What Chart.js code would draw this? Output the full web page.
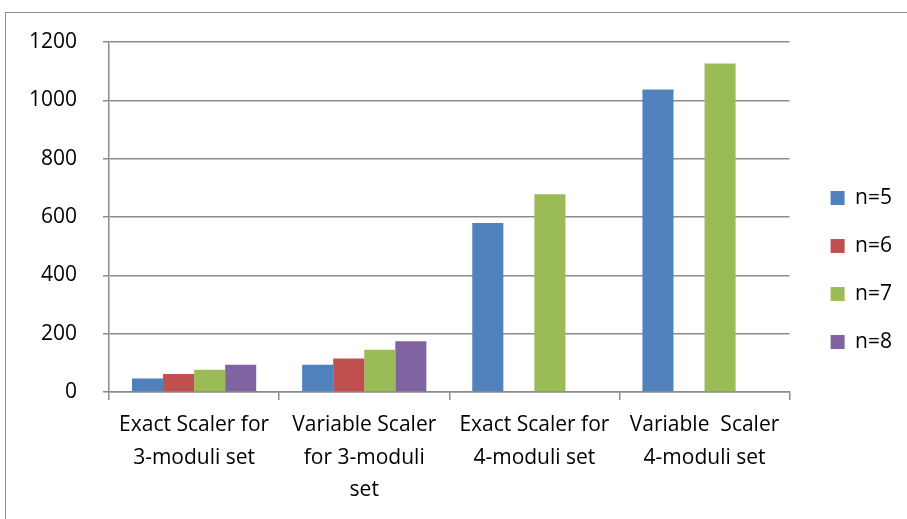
<!DOCTYPE html>
<html>
<head>
<meta charset="utf-8">
<script src="https://cdn.jsdelivr.net/npm/chart.js@4"></script>
<style>
  html, body { margin:0; padding:0; background:#fff; overflow:hidden; }
  #wrap { position:relative; width:907px; height:519px; }
  #frame { position:absolute; left:5px; top:12px; width:1000px; height:600px; border:1.5px solid #8c8c8c; }
  canvas { position:absolute; left:0; top:0; }
</style>
</head>
<body>
<div id="wrap">
  <div id="frame"></div>
  <canvas id="chart" width="907" height="519"></canvas>
</div>
<script>
// categories (multi-line labels, as in the original)
const categories = [
  ['Exact Scaler for', '3-moduli set'],
  ['Variable Scaler', 'for 3-moduli', 'set'],
  ['Exact Scaler for', '4-moduli set'],
  ['Variable  Scaler', '4-moduli set']
];
const seriesNames = ['n=5', 'n=6', 'n=7', 'n=8'];
const n5 = [47, 94, 580, 1037];
const n6 = [62, 115, null, null];
const n7 = [77, 145, 678, 1126];
const n8 = [94, 174, null, null];
const yTicks = [0, 200, 400, 600, 800, 1000, 1200];

const colors = ['#4F81BD', '#C0504D', '#9BBB59', '#8064A2'];
const values = [n5, n6, n7, n8];

Chart.defaults.font.family = '"Open Sans", "Liberation Sans", sans-serif';
Chart.defaults.font.size = 21;
Chart.defaults.color = '#000';

// empty axis, only used to keep some space around the plot
function spacer(pos, size) {
  return {
    type: 'linear', position: pos, display: true,
    grid: { display: false }, border: { display: false }, ticks: { display: false },
    afterFit: s => { if (pos === 'top') s.height = size; else s.width = size; }
  };
}

let ctx = document.getElementById('chart').getContext('2d');
new Chart(ctx, {
  type: 'bar',
  data: {
    labels: categories,
    datasets: seriesNames.map((name, i) => ({
      label: name,
      data: values[i],
      backgroundColor: colors[i],
      borderWidth: 0,
      barPercentage: 1,
      categoryPercentage: 0.73
    }))
  },
  options: {
    responsive: false,
    animation: false,
    layout: { padding: { left: 3, right: 5, top: 25, bottom: 4 } },
    plugins: {
      legend: {
        position: 'right',
        labels: { boxWidth: 14, boxHeight: 14, padding: 27, font: { size: 21 } }
      },
      tooltip: { enabled: false }
    },
    scales: {
      x: {
        grid: { offset: true, drawOnChartArea: false, drawTicks: true, tickLength: 8, color: '#8c8c8c', lineWidth: 1.5 },
        border: { color: '#8c8c8c', width: 1.5 },
        ticks: { maxRotation: 0, autoSkip: false, padding: 8, font: { size: 21, lineHeight: 1.57 } }
      },
      y: {
        min: 0, max: 1200,
        afterBuildTicks: axis => { axis.ticks = yTicks.map(v => ({ value: v })); },
        grid: { color: '#8c8c8c', lineWidth: 1.5, tickLength: 6 },
        border: { color: '#8c8c8c', width: 1.5 },
        ticks: { padding: 26, callback: v => String(v) }
      },
      gapTop: spacer('top', 17),
      gapRight: spacer('right', 14)
    }
  }
});
</script>
</body>
</html>
